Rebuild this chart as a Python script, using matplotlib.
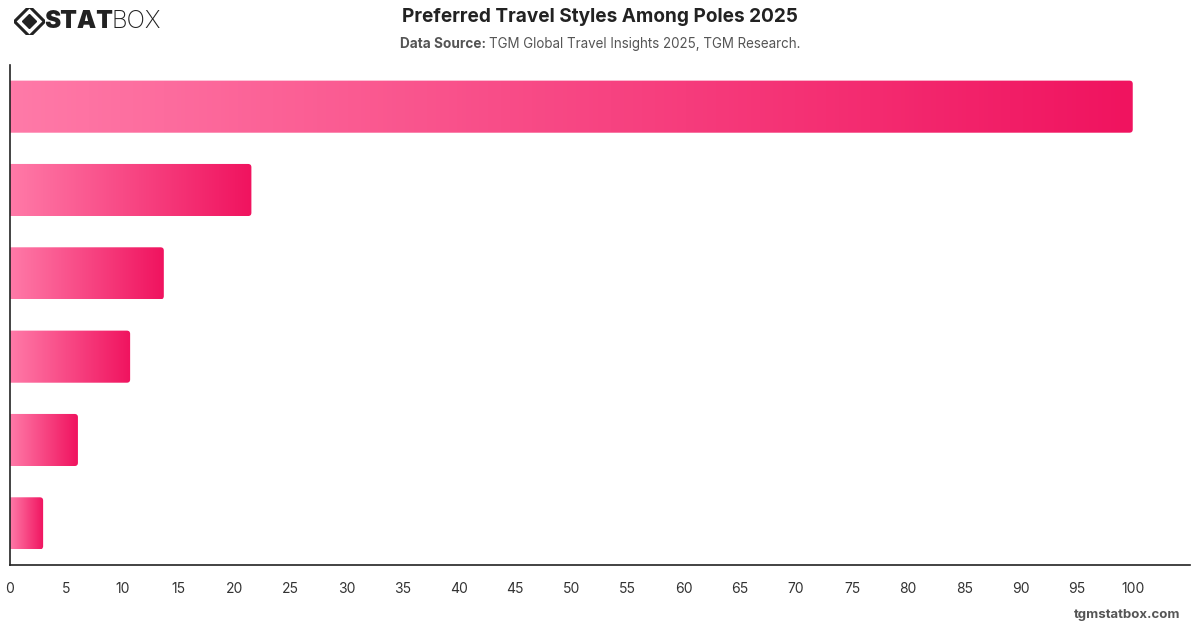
import numpy as np
import matplotlib.pyplot as plt
from matplotlib.patches import FancyBboxPatch
from matplotlib.colors import LinearSegmentedColormap

plt.rcParams['font.family'] = ['Inter', 'DejaVu Sans']

# data (top to bottom)
categories = ['Style A', 'Style B', 'Style C', 'Style D', 'Style E', 'Style F']
values = [100, 21.5, 13.7, 10.7, 6.05, 2.95]
xticks = list(range(0, 101, 5))

fig = plt.figure(figsize=(12, 6.28), dpi=100)
ax = fig.add_axes([10 / 1200, 1 - 565 / 628, 1180 / 1200, 500 / 628])

n = len(values)
ypos = np.arange(n)
bars = ax.barh(ypos, values, height=0.625, color='none')

cmap = LinearSegmentedColormap.from_list('pink', ['#ff7aa8', '#f0135f'])
grad = np.linspace(0, 1, 256).reshape(1, -1)
for b in bars:
    x0, y0 = b.get_x(), b.get_y()
    w, h = b.get_width(), b.get_height()
    patch = FancyBboxPatch((x0 - 1, y0), w + 1, h,
                           boxstyle='round,pad=0,rounding_size=0.3',
                           mutation_aspect=0.13, facecolor='none',
                           edgecolor='none', transform=ax.transData)
    ax.add_patch(patch)
    im = ax.imshow(grad, cmap=cmap, aspect='auto',
                   extent=(x0, x0 + w, y0 + h, y0), zorder=2)
    im.set_clip_path(patch)

ax.set_ylim(n - 0.5, -0.5)
ax.set_xlim(0, 105.1)
ax.set_xticks(xticks)
ax.set_yticks([])
ax.tick_params(axis='x', length=0, pad=12, labelsize=10, labelcolor='#333333')
for s in ['top', 'right']:
    ax.spines[s].set_visible(False)
for s in ['left', 'bottom']:
    ax.spines[s].set_color('#222222')
    ax.spines[s].set_linewidth(1.2)

# titles
fig.text(0.5, 1 - 17 / 628, 'Preferred Travel Styles Among Poles 2025',
         ha='center', va='center', fontsize=13.7, fontweight='bold', color='#222222')
fig.text(486 / 1200, 1 - 44 / 628, 'Data Source:', ha='right', va='center',
         fontsize=9.8, fontweight='bold', color='#555555')
fig.text(489 / 1200, 1 - 44 / 628, 'TGM Global Travel Insights 2025, TGM Research.',
         ha='left', va='center', fontsize=9.65, color='#555555')

# logo
lax = fig.add_axes([14 / 1200, 1 - 34 / 628, 30 / 1200, 26 / 628])
lax.set_xlim(-1, 1)
lax.set_ylim(-1, 1)
lax.axis('off')
lax.plot([0], [0], marker='D', markersize=15, markerfacecolor='none',
         markeredgecolor='#222222', markeredgewidth=2.2)
lax.plot([0], [0], marker='D', markersize=7, color='#222222')
fig.text(44 / 1200, 1 - 21 / 628, 'STAT', ha='left', va='center',
         fontsize=17.5, fontweight='black', color='#222222')
fig.text(111 / 1200, 1 - 21 / 628, 'BOX', ha='left', va='center',
         fontsize=17.5, fontweight='light', color='#222222')

fig.text(1180 / 1200, 1 - 615 / 628, 'tgmstatbox.com', ha='right', va='center',
         fontsize=9.5, fontweight='bold', color='#555555')

fig.savefig('out.png', dpi=100)
